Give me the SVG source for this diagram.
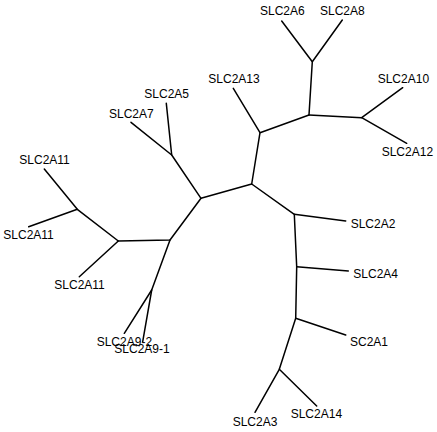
<svg xmlns="http://www.w3.org/2000/svg" width="437" height="432" viewBox="0 0 437 432">
<style>
.e{stroke:#000;stroke-width:1.5;fill:none;stroke-linecap:round;stroke-linejoin:round}
text{font-family:"Liberation Sans",Arial,sans-serif;font-size:12px;fill:#000}
</style>
<rect width="437" height="432" fill="#fff"/>
<g id="connectors" class="e">
<polyline points="44.3,169 77.3,209.3 118.3,241 170,240 201,198.3 251.7,184 260,132.7 309,115 312.3,61.7 281.7,21"/>
<line x1="77.3" y1="209.3" x2="28.7" y2="226.7"/>
<line x1="118.3" y1="241" x2="79.3" y2="276.7"/>
<polyline points="170,240 151.7,290 124.3,333.3"/>
<line x1="151.7" y1="290" x2="142.7" y2="341.7"/>
<polyline points="201,198.3 171.7,155 131,122.3"/>
<line x1="171.7" y1="155" x2="166.3" y2="103.3"/>
<line x1="312.3" y1="61.7" x2="342.3" y2="20"/>
<polyline points="309,115 361.7,117.7 402.7,87.7"/>
<line x1="361.7" y1="117.7" x2="406.7" y2="143.3"/>
<line x1="260" y1="132.7" x2="233.3" y2="88.3"/>
<polyline points="251.7,184 294.3,214.3 296.7,266.7 295.7,318.3 279.3,369.3 255,412.3"/>
<line x1="294.3" y1="214.3" x2="345.7" y2="221"/>
<line x1="296.7" y1="266.7" x2="348.3" y2="271"/>
<line x1="295.7" y1="318.3" x2="345.7" y2="335"/>
<line x1="279.3" y1="369.3" x2="316.7" y2="406"/>
</g>
<g id="n-slc2a11-a"><text x="19.3" y="164">SLC2A11</text></g>
<g id="n-slc2a11-b"><text x="3.3" y="239.3">SLC2A11</text></g>
<g id="n-slc2a11-c"><text x="54.3" y="289.3">SLC2A11</text></g>
<g id="n-slc2a9-2"><text x="96.7" y="346">SLC2A9-2</text></g>
<g id="n-slc2a9-1"><text x="114.3" y="353.3">SLC2A9-1</text></g>
<g id="n-slc2a5"><text x="144.3" y="98.3">SLC2A5</text></g>
<g id="n-slc2a7"><text x="109" y="118.3">SLC2A7</text></g>
<g id="n-slc2a6"><text x="260" y="15">SLC2A6</text></g>
<g id="n-slc2a8"><text x="320" y="15">SLC2A8</text></g>
<g id="n-slc2a10"><text x="377.7" y="83.3">SLC2A10</text></g>
<g id="n-slc2a12"><text x="381.7" y="156">SLC2A12</text></g>
<g id="n-slc2a13"><text x="208.3" y="83.3">SLC2A13</text></g>
<g id="n-slc2a2"><text x="350.7" y="228.3">SLC2A2</text></g>
<g id="n-slc2a4"><text x="353.3" y="278.3">SLC2A4</text></g>
<g id="n-sc2a1"><text x="350" y="345.7">SC2A1</text></g>
<g id="n-slc2a3"><text x="232.7" y="426">SLC2A3</text></g>
<g id="n-slc2a14"><text x="290.7" y="418.3">SLC2A14</text></g>
</svg>
